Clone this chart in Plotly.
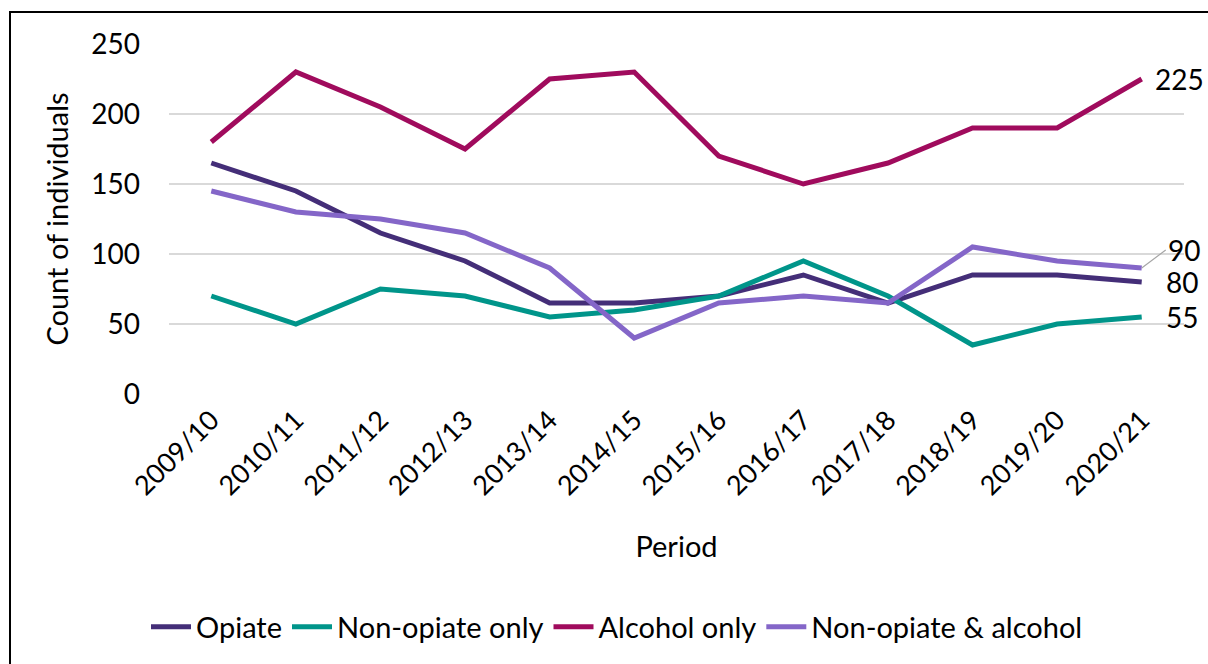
import plotly.graph_objects as go

periods = ["2009/10", "2010/11", "2011/12", "2012/13", "2013/14", "2014/15",
           "2015/16", "2016/17", "2017/18", "2018/19", "2019/20", "2020/21"]

opiate = [165, 145, 115, 95, 65, 65, 70, 85, 65, 85, 85, 80]
non_opiate_only = [70, 50, 75, 70, 55, 60, 70, 95, 70, 35, 50, 55]
alcohol_only = [180, 230, 205, 175, 225, 230, 170, 150, 165, 190, 190, 225]
non_opiate_alcohol = [145, 130, 125, 115, 90, 40, 65, 70, 65, 105, 95, 90]

series = [
    ("Opiate", opiate, "#442E78"),
    ("Non-opiate only", non_opiate_only, "#00958A"),
    ("Alcohol only", alcohol_only, "#A00B5D"),
    ("Non-opiate & alcohol", non_opiate_alcohol, "#8466C8"),
]

FONT = "Lato"
W, H = 1208, 664
L, R, T, B = 169, 24, 44, 270

fig = go.Figure()
for name, vals, color in series:
    fig.add_trace(go.Scatter(
        x=periods, y=vals, name=name, mode="lines",
        line=dict(color=color, width=5),
    ))

# end-of-line value labels
last = periods[-1]
for name, vals, color in series:
    if name == "Non-opiate & alcohol":
        fig.add_annotation(
            x=last, y=vals[-1], text=str(vals[-1]), showarrow=True,
            arrowhead=0, arrowwidth=1.2, arrowcolor="#A6A6A6",
            ax=24, ay=-18, xanchor="left", yanchor="middle",
            font=dict(family=FONT, size=28, color="#000000"),
        )
    else:
        fig.add_annotation(
            x=last, y=vals[-1], text=str(vals[-1]), showarrow=False,
            xanchor="left", yanchor="middle",
            xshift=11 if vals[-1] >= 100 else 22,
            font=dict(family=FONT, size=28, color="#000000"),
        )

# outer chart frame
fig.add_shape(
    type="rect", xref="paper", yref="paper",
    x0=(10 - L) / (W - L - R), x1=(W + 20 - L) / (W - L - R),
    y0=(H - B - (H + 20)) / (H - T - B), y1=(H - B - 12) / (H - T - B),
    line=dict(color="#000000", width=2), fillcolor="rgba(0,0,0,0)",
    layer="below",
)

fig.update_layout(
    width=W, height=H,
    margin=dict(l=L, r=R, t=T, b=B, autoexpand=False),
    paper_bgcolor="#FFFFFF", plot_bgcolor="#FFFFFF",
    font=dict(family=FONT, size=29, color="#000000"),
    showlegend=True,
    legend=dict(
        orientation="h", x=(617 - L) / (W - L - R), xanchor="center",
        y=(H - B - 627) / (H - T - B), yanchor="middle",
        font=dict(family=FONT, size=29), itemwidth=40,
        bgcolor="rgba(0,0,0,0)",
    ),
    xaxis=dict(
        type="category", range=[-0.5, len(periods) - 0.5],
        tickangle=-45, showgrid=False, showline=False,
        zeroline=False, ticks="", ticklabelstandoff=4,
        tickfont=dict(family=FONT, size=27),
        title=dict(text="Period", standoff=36, font=dict(family=FONT, size=29)),
        automargin=False,
    ),
    yaxis=dict(
        range=[0, 250], tickvals=[0, 50, 100, 150, 200, 250],
        showgrid=True, gridcolor="#D9D9D9", gridwidth=1.5,
        zeroline=False, showline=False, ticks="", ticklabelstandoff=28,
        tickfont=dict(family=FONT, size=28),
        title=dict(text="Count of individuals", standoff=14,
                   font=dict(family=FONT, size=29)),
        automargin=False,
    ),
)

fig.write_html("out.html")
